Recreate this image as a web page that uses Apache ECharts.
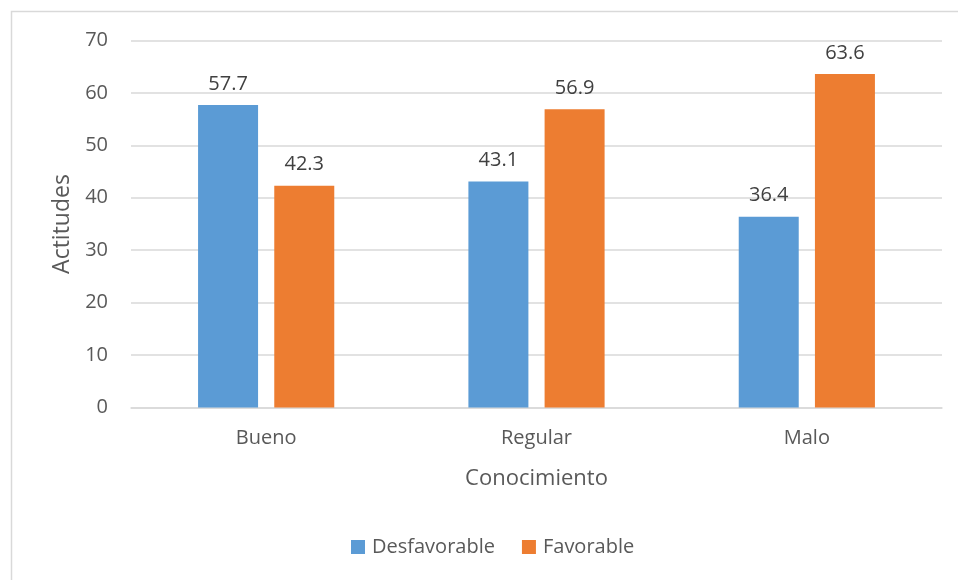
<!DOCTYPE html>
<html><head><meta charset="utf-8">
<script src="https://cdn.jsdelivr.net/npm/echarts@6/dist/echarts.min.js"></script>
<style>html,body{margin:0;padding:0;background:#fff}#c{width:958px;height:580px}</style>
</head><body><div id="c"></div>
<script>
const categories = ['Bueno', 'Regular', 'Malo'];
const desfavorable = [57.7, 43.1, 36.4];
const favorable = [42.3, 56.9, 63.6];
const yTicks = {min: 0, max: 70, interval: 10};

const font = '"Open Sans", "Noto Sans", sans-serif';
const chart = echarts.init(document.getElementById('c'), null, {renderer: 'canvas'});
chart.setOption({
  backgroundColor: '#fff',
  animation: false,
  textStyle: {fontFamily: font},
  graphic: [{type: 'rect', shape: {x: 11.5, y: 11.5, width: 1000, height: 1000}, style: {fill: 'none', stroke: '#d9d9d9', lineWidth: 1.5}, silent: true}],
  grid: {left: 131, right: 16, top: 40.5, bottom: 172.5},
  legend: {
    bottom: 18, left: 346, itemWidth: 14, itemHeight: 14, itemGap: 27,
    icon: 'rect',
    textStyle: {fontSize: 20, color: '#595959', fontFamily: font, padding: [0, 0, 0, 2]},
    data: ['Desfavorable', 'Favorable']
  },
  xAxis: {
    type: 'category', data: categories,
    name: 'Conocimiento', nameLocation: 'middle', nameGap: 60,
    nameTextStyle: {fontSize: 22, color: '#595959', fontFamily: font},
    axisLine: {lineStyle: {color: '#d9d9d9', width: 1.5}},
    axisTick: {show: false},
    axisLabel: {fontSize: 20, color: '#595959', margin: 21, fontFamily: font}
  },
  yAxis: {
    type: 'value', min: yTicks.min, max: yTicks.max, interval: yTicks.interval,
    name: 'Actitudes', nameLocation: 'middle', nameGap: 57, nameRotate: 90,
    nameTextStyle: {fontSize: 23, color: '#595959', fontFamily: font},
    axisLine: {show: false}, axisTick: {show: false},
    axisLabel: {fontSize: 20, color: '#595959', margin: 23, fontFamily: font},
    splitLine: {lineStyle: {color: '#d9d9d9', width: 1.5}}
  },
  series: [
    {name: 'Desfavorable', type: 'bar', data: desfavorable, barWidth: 60, barGap: '27%',
     itemStyle: {color: '#5b9bd5'},
     label: {show: true, position: 'top', distance: 11, fontSize: 20, color: '#404040', fontFamily: font}},
    {name: 'Favorable', type: 'bar', data: favorable, barWidth: 60, barGap: '27%',
     itemStyle: {color: '#ed7d31'},
     label: {show: true, position: 'top', distance: 11, fontSize: 20, color: '#404040', fontFamily: font}}
  ]
});
</script></body></html>
